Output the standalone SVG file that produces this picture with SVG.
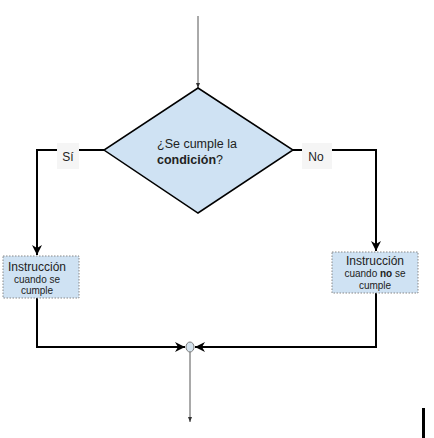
<svg xmlns="http://www.w3.org/2000/svg" width="434" height="438" viewBox="0 0 434 438">
<style>
.t{font-family:"Liberation Sans",Arial,sans-serif;fill:#222}
.box{fill:#cfe2f3;stroke:#888;stroke-width:1;stroke-dasharray:1.5 1.5}
.thick{fill:none;stroke:#000;stroke-width:2}
.thin{fill:none;stroke:#555;stroke-width:1}
.lbl{fill:#f5f5f5}
</style>
<defs>
<marker id="ah" viewBox="0 0 10 10" refX="10" refY="5" markerWidth="5" markerHeight="5" markerUnits="strokeWidth" orient="auto">
<path d="M0,0 L10,5 L0,10 L3,5 Z" fill="#000"/>
</marker>
<marker id="as" viewBox="0 0 10 10" refX="10" refY="5" markerWidth="5" markerHeight="5" markerUnits="strokeWidth" orient="auto">
<path d="M0,1 L10,5 L0,9 Z" fill="#333"/>
</marker>
</defs>
<g id="connectors">
<line class="thin" x1="198" y1="16" x2="198" y2="88" marker-end="url(#as)"/>
<polyline class="thick" points="104,150 37,150 37,255" marker-end="url(#ah)"/>
<polyline class="thick" points="293,150 376,150 376,251" marker-end="url(#ah)"/>
<polyline class="thick" points="37,298 37,347 185,347" marker-end="url(#ah)"/>
<polyline class="thick" points="376,293 376,347 195,347" marker-end="url(#ah)"/>
<line class="thin" x1="190" y1="352" x2="190" y2="422" marker-end="url(#as)"/>
<g id="label-si">
<rect class="lbl" x="57" y="143" width="22" height="26"/>
<text class="t" x="68" y="161" font-size="12" text-anchor="middle">Sí</text>
</g>
<g id="label-no">
<rect class="lbl" x="302" y="143" width="30" height="26"/>
<text class="t" x="316" y="161" font-size="12" text-anchor="middle">No</text>
</g>
</g>
<g id="decision">
<polygon points="198,88 293,150 198,213 104,150" fill="#cfe2f3" stroke="#000" stroke-width="1.5"/>
<text class="t" x="157" y="148" font-size="12.5">¿Se cumple la</text>
<text class="t" x="157" y="164" font-size="12.5"><tspan font-weight="bold">condición</tspan>?</text>
</g>
<g id="yes-box">
<rect class="box" x="3" y="256" width="76" height="42"/>
<text class="t" x="37" y="271" font-size="12" text-anchor="middle">Instrucción</text>
<text class="t" x="37" y="283" font-size="10" text-anchor="middle">cuando se</text>
<text class="t" x="37" y="294" font-size="10" text-anchor="middle">cumple</text>
</g>
<g id="no-box">
<rect class="box" x="332" y="252" width="86" height="41"/>
<text class="t" x="375" y="265" font-size="12" text-anchor="middle">Instrucción</text>
<text class="t" x="375" y="277" font-size="10" text-anchor="middle">cuando <tspan font-weight="bold">no</tspan> se</text>
<text class="t" x="375" y="289" font-size="10" text-anchor="middle">cumple</text>
</g>
<g id="merge">
<ellipse cx="190" cy="347" rx="4" ry="5" fill="#d5e3ee" stroke="#777" stroke-width="1"/>
</g>
<rect x="422" y="408" width="3" height="30" fill="#000"/>
</svg>
